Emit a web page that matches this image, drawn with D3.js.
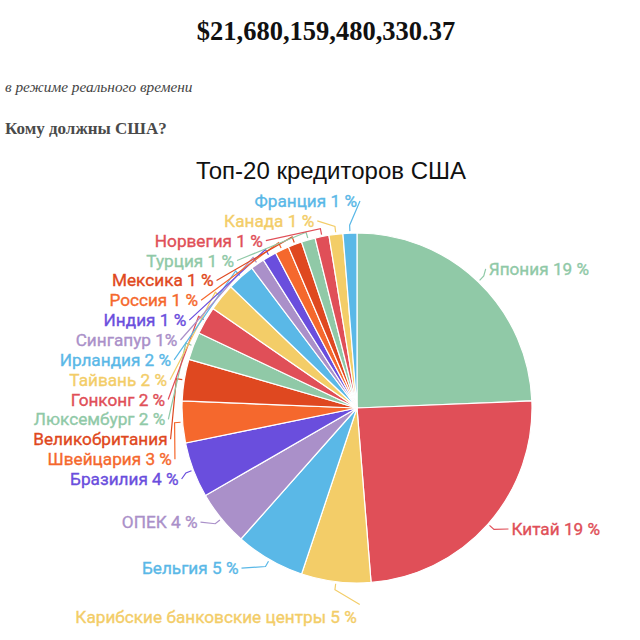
<!DOCTYPE html>
<html>
<head>
<meta charset="utf-8">
<script src="https://cdn.jsdelivr.net/npm/d3@7"></script>
<style>
  html, body { margin: 0; padding: 0; background: #fff; }
  svg { display: block; }
</style>
</head>
<body>
<svg id="chart"></svg>
<script>
// creditors, clockwise from 12 o'clock
const countries = ["Япония", "Китай", "Карибские банковские центры", "Бельгия", "ОПЕК", "Бразилия",
  "Швейцария", "Великобритания", "Люксембург", "Гонконг", "Тайвань", "Ирландия", "Сингапур",
  "Индия", "Россия", "Мексика", "Турция", "Норвегия", "Канада", "Франция"];
const shares = [19, 19, 5, 5, 4, 4, 3, 3, 2, 2, 2, 2, 1, 1, 1, 1, 1, 1, 1, 1];
const labels = ["Япония 19 %", "Китай 19 %", "Карибские банковские центры 5 %", "Бельгия 5 %",
  "ОПЕК 4 %", "Бразилия 4 %", "Швейцария 3 %", "Великобритания", "Люксембург 2 %", "Гонконг 2 %",
  "Тайвань 2 %", "Ирландия 2 %", "Сингапур 1%", "Индия 1 %", "Россия 1 %", "Мексика 1 %",
  "Турция 1 %", "Норвегия 1 %", "Канада 1 %", "Франция 1 %"];
const palette = ["#90c9a7", "#e04f58", "#f3cd68", "#5ab8e7", "#aa90c9", "#6a4edd", "#f5682d", "#df4820"];

const width = 640, height = 640;
const cx = 357, cy = 408, r = 175;

const svg = d3.select("#chart").attr("width", width).attr("height", height);

// page header
svg.append("text").attr("x", 326).attr("y", 40).attr("text-anchor", "middle")
  .style("font-family", "Liberation Serif, serif").style("font-weight", "bold").style("font-size", "26.5px")
  .attr("fill", "#111").text("$21,680,159,480,330.37");
svg.append("text").attr("x", 5).attr("y", 92)
  .style("font-family", "Liberation Serif, serif").style("font-style", "italic").style("font-size", "15.3px")
  .attr("fill", "#444").text("в режиме реального времени");
svg.append("text").attr("x", 5).attr("y", 134)
  .style("font-family", "Liberation Serif, serif").style("font-weight", "bold").style("font-size", "17px")
  .attr("fill", "#4a4a4a").text("Кому должны США?");
svg.append("text").attr("x", 331).attr("y", 179).attr("text-anchor", "middle")
  .style("font-family", "Liberation Sans, Arial, sans-serif").style("font-size", "24px")
  .attr("fill", "#111").text("Топ-20 кредиторов США");

const data = countries.map((c, i) => ({ country: c, value: shares[i], label: labels[i] }));
const color = d3.scaleOrdinal().domain(countries).range(palette);

const pie = d3.pie().sort(null).value(d => d.value);
const arcs = pie(data);
const arc = d3.arc().innerRadius(0).outerRadius(r);

const g = svg.append("g").attr("transform", `translate(${cx},${cy})`);

g.selectAll("path.slice")
  .data(arcs)
  .join("path")
  .attr("class", "slice")
  .attr("d", arc)
  .attr("fill", d => color(d.data.country))
  .attr("stroke", "#fff")
  .attr("stroke-width", 1.2);

// label layout
const mid = d => (d.startAngle + d.endAngle) / 2;
const pt = (a, rad) => [rad * Math.sin(a), -rad * Math.cos(a)];
const nudges = [[-2, 0], [10, -7], [23, 17], [-22, -7], [-10, -8]];
const stackStep = 19.86, stackBase = 479 - cy, R = 192;

arcs.forEach((d, i) => {
  const a = mid(d);
  let lx, ly, anchor;
  if (i < nudges.length) {
    const p = pt(a, r + 18);
    lx = p[0] + nudges[i][0];
    ly = p[1] + nudges[i][1];
    anchor = (i < 2) ? "start" : "end";
  } else {
    ly = stackBase - (i - 5) * stackStep;
    lx = Math.abs(ly) < R ? -Math.sqrt(R * R - ly * ly) : 0;
    anchor = "end";
  }
  d.lx = lx; d.ly = ly; d.anchor = anchor;
});

const line = d3.line();
g.selectAll("path.leader")
  .data(arcs)
  .join("path")
  .attr("class", "leader")
  .attr("fill", "none")
  .attr("stroke", d => color(d.data.country))
  .attr("stroke-width", 1.2)
  .attr("d", d => {
    const a = mid(d);
    const p1 = pt(a, r + 2), p2 = pt(a, r + 8);
    const end = d.anchor === "start" ? [d.lx - 3, d.ly] : [d.lx + 3, d.ly - (d.index === 2 ? 12 : 0)];
    return line([p1, p2, end]);
  });

g.selectAll("text.label")
  .data(arcs)
  .join("text")
  .attr("class", "label")
  .attr("x", d => d.lx)
  .attr("y", d => d.ly)
  .attr("dy", "0.35em")
  .attr("text-anchor", d => d.anchor)
  .style("font-family", "Roboto, sans-serif")
  .style("font-size", "17.2px")
  .attr("fill", d => color(d.data.country))
  .attr("stroke", d => color(d.data.country))
  .attr("stroke-width", 0.35)
  .text(d => d.data.label);
</script>
</body>
</html>
